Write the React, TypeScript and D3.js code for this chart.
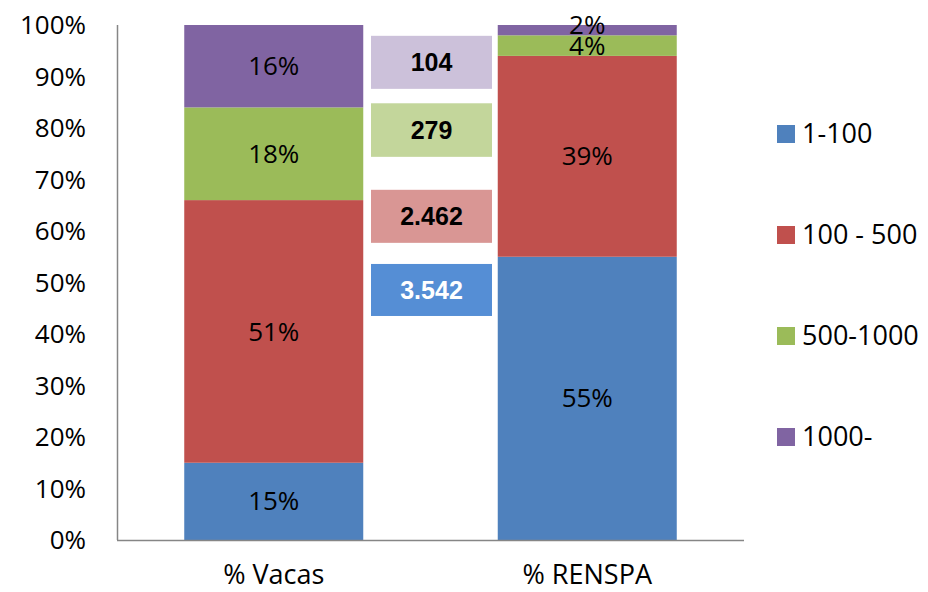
import React from "react";
import * as d3 from "d3";

const categories = ["% Vacas", "% RENSPA"];
const seriesNames = ["1-100", "100 - 500", "500-1000", "1000-"];
const seriesColors = ["#4F81BD", "#C0504D", "#9BBB59", "#8064A2"];
// percent per series, one value per category
const vals1to100 = [15, 55];
const vals100to500 = [51, 39];
const vals500to1000 = [18, 4];
const vals1000plus = [16, 2];
const yTicks = [0, 10, 20, 30, 40, 50, 60, 70, 80, 90, 100];

// count boxes between the bars (top to bottom)
const boxLabels = ["104", "279", "2.462", "3.542"];
const boxColors = ["#CCC1DA", "#C3D69B", "#D99694", "#558ED5"];
const boxTextColors = ["#000", "#000", "#000", "#fff"];
const boxTops = [97.9, 84.8, 68.0, 53.6];
const boxBottoms = [87.6, 74.4, 57.7, 43.5];

const App = () => {
  const svgRef = React.useRef(null);
  const width = 928;
  const height = 592;

  React.useEffect(() => {
    const svg = d3.select(svgRef.current);
    svg.selectAll("*").remove();
    const font = "'Open Sans', 'Noto Sans', sans-serif";
    const fs = 26;

    const y = d3.scaleLinear().domain([0, 100]).range([540, 25]);
    const x = d3.scaleBand().domain(categories).range([117, 744]).padding(0);
    const barW = x.bandwidth() * 0.571;

    const table = categories.map((c, i) => ({
      cat: c,
      "1-100": vals1to100[i],
      "100 - 500": vals100to500[i],
      "500-1000": vals500to1000[i],
      "1000-": vals1000plus[i],
    }));
    const stacked = d3.stack().keys(seriesNames)(table);

    // y tick labels
    svg.append("g")
      .selectAll("text")
      .data(yTicks)
      .enter()
      .append("text")
      .attr("x", 86)
      .attr("y", (d) => y(d))
      .attr("dy", "0.35em")
      .attr("text-anchor", "end")
      .attr("font-family", font)
      .attr("font-size", fs)
      .attr("fill", "#000")
      .text((d) => `${d}%`);

    // bars
    stacked.forEach((s, si) => {
      const g = svg.append("g");
      g.selectAll("rect")
        .data(s)
        .enter()
        .append("rect")
        .attr("x", (d) => x(d.data.cat) + (x.bandwidth() - barW) / 2)
        .attr("width", barW)
        .attr("y", (d) => y(d[1]))
        .attr("height", (d) => y(d[0]) - y(d[1]))
        .attr("fill", seriesColors[si]);
      g.selectAll("text")
        .data(s)
        .enter()
        .append("text")
        .attr("x", (d) => x(d.data.cat) + x.bandwidth() / 2)
        .attr("y", (d) => (y(d[0]) + y(d[1])) / 2 - (d[1] - d[0] < 3 ? 5 : 0))
        .attr("dy", "0.35em")
        .attr("text-anchor", "middle")
        .attr("font-family", font)
        .attr("font-size", fs)
        .attr("fill", "#000")
        .text((d) => `${d[1] - d[0]}%`);
    });

    // axes lines
    svg.append("line")
      .attr("x1", 117.5).attr("x2", 117.5)
      .attr("y1", 25).attr("y2", 540)
      .attr("stroke", "#868686").attr("stroke-width", 1.5);
    svg.append("line")
      .attr("x1", 117).attr("x2", 744)
      .attr("y1", 540.5).attr("y2", 540.5)
      .attr("stroke", "#868686").attr("stroke-width", 1.5);

    // category labels
    svg.append("g")
      .selectAll("text")
      .data(categories)
      .enter()
      .append("text")
      .attr("x", (d) => x(d) + x.bandwidth() / 2)
      .attr("y", 584)
      .attr("text-anchor", "middle")
      .attr("font-family", font)
      .attr("font-size", fs + 1)
      .attr("fill", "#000")
      .text((d) => d);

    // count boxes
    const boxes = svg.append("g");
    boxLabels.forEach((lab, i) => {
      boxes.append("rect")
        .attr("x", 371)
        .attr("width", 121)
        .attr("y", y(boxTops[i]))
        .attr("height", y(boxBottoms[i]) - y(boxTops[i]))
        .attr("fill", boxColors[i]);
      boxes.append("text")
        .attr("x", 431.5)
        .attr("y", (y(boxTops[i]) + y(boxBottoms[i])) / 2)
        .attr("dy", "0.35em")
        .attr("text-anchor", "middle")
        .attr("font-family", "'Liberation Sans', Arial, sans-serif")
        .attr("font-weight", "bold")
        .attr("font-size", 25)
        .attr("fill", boxTextColors[i])
        .text(lab);
    });

    // legend
    const legendY = d3.scalePoint().domain(seriesNames).range([134, 437]);
    const leg = svg.append("g");
    seriesNames.forEach((n, i) => {
      leg.append("rect")
        .attr("x", 777)
        .attr("y", legendY(n) - 9)
        .attr("width", 18)
        .attr("height", 18)
        .attr("fill", seriesColors[i]);
      leg.append("text")
        .attr("x", 802)
        .attr("y", legendY(n))
        .attr("dy", "0.35em")
        .attr("font-family", font)
        .attr("font-size", fs + 1)
        .attr("fill", "#000")
        .text(n);
    });
  }, []);

  return (
    <svg
      ref={svgRef}
      width={width}
      height={height}
      style={{ position: "absolute", left: 0, top: 0, background: "#fff" }}
    />
  );
};

export default App;
